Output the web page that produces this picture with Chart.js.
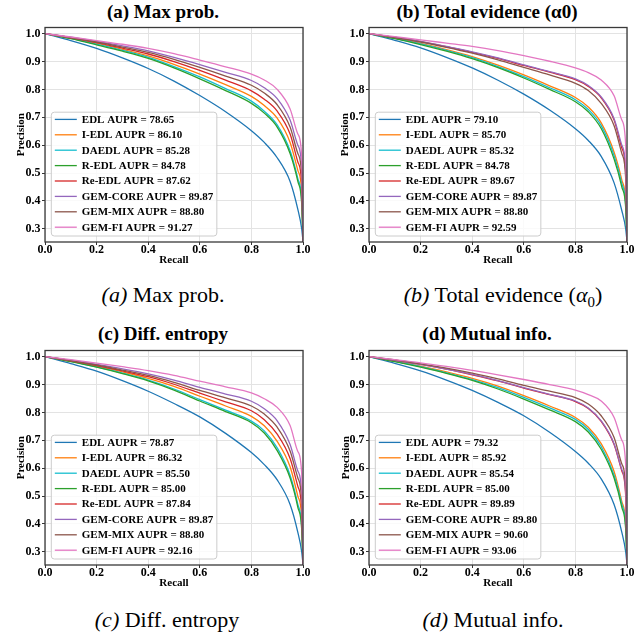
<!DOCTYPE html>
<html>
<head>
<meta charset="utf-8">
<script src="https://cdn.jsdelivr.net/npm/chart.js@4.4.1/dist/chart.umd.min.js"></script>
<style>
body { margin: 0; background: #fff; width: 640px; height: 634px; position: relative; overflow: hidden;
       font-family: "Liberation Serif", "Times New Roman", serif; color: #000; }
canvas { position: absolute; }
.ttl { position: absolute; width: 300px; text-align: center; font-weight: bold; font-size: 19px; line-height: 22px; white-space: nowrap; }
.cap { position: absolute; width: 300px; text-align: center; font-size: 22px; line-height: 26px; white-space: nowrap; }
.cap sub { font-size: 0.68em; }
</style>
</head>
<body>
<div class="ttl" style="left:13px;top:1px">(a) Max prob.</div>
<div class="ttl" style="left:337px;top:1px">(b) Total evidence (α0)</div>
<div class="ttl" style="left:13px;top:323px">(c) Diff. entropy</div>
<div class="ttl" style="left:337px;top:323px">(d) Mutual info.</div>

<canvas id="chartA" width="320" height="250" style="left:0;top:20px"></canvas>
<canvas id="chartB" width="320" height="250" style="left:320px;top:20px"></canvas>
<canvas id="chartC" width="320" height="250" style="left:0;top:343px"></canvas>
<canvas id="chartD" width="320" height="250" style="left:320px;top:343px"></canvas>

<div class="cap" style="left:13px;top:282px"><i>(a)</i> Max prob.</div>
<div class="cap" style="left:353px;top:282px"><i>(b)</i> Total evidence (<i>α</i><sub>0</sub>)</div>
<div class="cap" style="left:17px;top:607px"><i>(c)</i> Diff. entropy</div>
<div class="cap" style="left:343px;top:607px"><i>(d)</i> Mutual info.</div>

<script>
// ---------------- data ----------------
var methods = ['EDL', 'I-EDL', 'DAEDL', 'R-EDL', 'Re-EDL', 'GEM-CORE', 'GEM-MIX', 'GEM-FI'];
var colors = ['#1f77b4', '#ff7f0e', '#17becf', '#2ca02c', '#d62728', '#9467bd', '#8c564b', '#e377c2'];

var recall = [0, 0.1, 0.2, 0.3, 0.4, 0.5, 0.6, 0.7, 0.8, 0.85, 0.9, 0.95, 0.98, 0.995, 1.0];
var xTicks = [0.0, 0.2, 0.4, 0.6, 0.8, 1.0];
var yTicks = [0.3, 0.4, 0.5, 0.6, 0.7, 0.8, 0.9, 1.0];

// AUPR per method (legend order)
var auprA = [78.65, 86.10, 85.28, 84.78, 87.62, 89.87, 88.80, 91.27];
var auprB = [79.10, 85.70, 85.32, 84.78, 89.67, 89.87, 88.80, 92.59];
var auprC = [78.87, 86.32, 85.50, 85.00, 87.84, 89.87, 88.80, 92.16];
var auprD = [79.32, 85.92, 85.54, 85.00, 89.89, 89.80, 90.60, 93.06];

// precision at each recall value, one row per method
var precA = [
    [1.0, 0.975, 0.947, 0.913, 0.875, 0.830, 0.778, 0.720, 0.652, 0.610, 0.555, 0.470, 0.370, 0.300, 0.255],
    [1.0, 0.984, 0.965, 0.944, 0.920, 0.890, 0.855, 0.817, 0.775, 0.742, 0.697, 0.610, 0.510, 0.430, 0.255],
    [1.0, 0.983, 0.962, 0.940, 0.915, 0.882, 0.845, 0.803, 0.758, 0.722, 0.673, 0.580, 0.480, 0.400, 0.255],
    [1.0, 0.982, 0.960, 0.937, 0.911, 0.877, 0.838, 0.796, 0.750, 0.715, 0.665, 0.570, 0.470, 0.390, 0.255],
    [1.0, 0.985, 0.968, 0.948, 0.927, 0.900, 0.868, 0.833, 0.795, 0.765, 0.722, 0.640, 0.540, 0.460, 0.255],
    [1.0, 0.987, 0.972, 0.956, 0.938, 0.915, 0.889, 0.861, 0.832, 0.806, 0.767, 0.690, 0.600, 0.520, 0.255],
    [1.0, 0.986, 0.970, 0.952, 0.933, 0.908, 0.879, 0.848, 0.815, 0.787, 0.745, 0.665, 0.570, 0.490, 0.255],
    [1.0, 0.988, 0.975, 0.962, 0.947, 0.928, 0.905, 0.881, 0.855, 0.834, 0.800, 0.730, 0.640, 0.560, 0.255]
];
var precB = [
    [1.0, 0.976, 0.949, 0.915, 0.877, 0.833, 0.783, 0.726, 0.659, 0.617, 0.560, 0.465, 0.365, 0.300, 0.255],
    [1.0, 0.984, 0.965, 0.943, 0.918, 0.887, 0.852, 0.813, 0.771, 0.737, 0.680, 0.575, 0.475, 0.395, 0.255],
    [1.0, 0.983, 0.963, 0.940, 0.914, 0.882, 0.846, 0.806, 0.763, 0.728, 0.670, 0.562, 0.462, 0.385, 0.255],
    [1.0, 0.982, 0.961, 0.937, 0.910, 0.878, 0.841, 0.800, 0.756, 0.720, 0.660, 0.550, 0.450, 0.375, 0.255],
    [1.0, 0.987, 0.971, 0.953, 0.933, 0.911, 0.886, 0.862, 0.835, 0.811, 0.770, 0.690, 0.590, 0.500, 0.255],
    [1.0, 0.987, 0.972, 0.954, 0.935, 0.913, 0.888, 0.864, 0.838, 0.814, 0.773, 0.695, 0.600, 0.510, 0.255],
    [1.0, 0.986, 0.970, 0.951, 0.930, 0.906, 0.879, 0.852, 0.822, 0.796, 0.750, 0.670, 0.570, 0.480, 0.255],
    [1.0, 0.989, 0.978, 0.966, 0.954, 0.939, 0.921, 0.901, 0.877, 0.860, 0.834, 0.777, 0.690, 0.600, 0.255]
];
var precC = [
    [1.0, 0.975, 0.948, 0.914, 0.876, 0.832, 0.784, 0.725, 0.656, 0.613, 0.558, 0.470, 0.370, 0.300, 0.255],
    [1.0, 0.984, 0.966, 0.945, 0.922, 0.893, 0.858, 0.823, 0.786, 0.752, 0.696, 0.605, 0.500, 0.420, 0.255],
    [1.0, 0.983, 0.963, 0.941, 0.916, 0.884, 0.846, 0.808, 0.769, 0.734, 0.673, 0.575, 0.470, 0.390, 0.255],
    [1.0, 0.982, 0.962, 0.939, 0.913, 0.880, 0.841, 0.803, 0.763, 0.726, 0.663, 0.565, 0.460, 0.380, 0.255],
    [1.0, 0.985, 0.968, 0.949, 0.928, 0.901, 0.869, 0.838, 0.806, 0.774, 0.722, 0.635, 0.535, 0.450, 0.255],
    [1.0, 0.987, 0.972, 0.956, 0.938, 0.916, 0.890, 0.866, 0.840, 0.813, 0.770, 0.685, 0.590, 0.510, 0.255],
    [1.0, 0.986, 0.970, 0.952, 0.933, 0.908, 0.879, 0.852, 0.823, 0.794, 0.747, 0.662, 0.565, 0.480, 0.255],
    [1.0, 0.989, 0.977, 0.964, 0.950, 0.933, 0.912, 0.892, 0.870, 0.849, 0.818, 0.753, 0.660, 0.580, 0.255]
];
var precD = [
    [1.0, 0.976, 0.949, 0.916, 0.879, 0.836, 0.788, 0.729, 0.660, 0.618, 0.562, 0.470, 0.370, 0.300, 0.255],
    [1.0, 0.984, 0.966, 0.945, 0.922, 0.894, 0.860, 0.823, 0.782, 0.747, 0.688, 0.588, 0.480, 0.400, 0.255],
    [1.0, 0.983, 0.964, 0.942, 0.918, 0.889, 0.854, 0.816, 0.775, 0.739, 0.678, 0.575, 0.470, 0.390, 0.255],
    [1.0, 0.982, 0.962, 0.940, 0.915, 0.884, 0.848, 0.809, 0.767, 0.730, 0.668, 0.565, 0.460, 0.380, 0.255],
    [1.0, 0.987, 0.972, 0.955, 0.935, 0.913, 0.887, 0.864, 0.839, 0.814, 0.768, 0.685, 0.590, 0.500, 0.255],
    [1.0, 0.987, 0.972, 0.955, 0.936, 0.914, 0.889, 0.865, 0.841, 0.816, 0.770, 0.688, 0.595, 0.510, 0.255],
    [1.0, 0.988, 0.974, 0.959, 0.941, 0.920, 0.897, 0.876, 0.853, 0.830, 0.788, 0.710, 0.615, 0.530, 0.255],
    [1.0, 0.989, 0.978, 0.965, 0.951, 0.935, 0.918, 0.900, 0.880, 0.864, 0.841, 0.782, 0.700, 0.610, 0.255]
];

// ---------------- drawing ----------------
var FAMILY = "'Liberation Serif', serif";
Chart.defaults.font.family = FAMILY;
Chart.defaults.color = '#000';

// spines round the axes + legend in the lower left corner
var framePlugin = {
    id: 'frame',
    afterDraw: function(chart) {
        var ctx = chart.ctx, a = chart.chartArea;
        ctx.save();
        ctx.strokeStyle = '#3a3a3a';
        ctx.lineWidth = 1.3;
        ctx.strokeRect(a.left, a.top, a.right - a.left, a.bottom - a.top);

        ctx.font = 'bold 11px ' + FAMILY;
        var sets = chart.data.datasets;
        var textW = 0;
        sets.forEach(function(d) { textW = Math.max(textW, ctx.measureText(d.label).width); });
        var rowH = 15.4;
        var w = 30.5 + textW + 3.5;
        var h = 7.2 + rowH * (sets.length - 1) + 8.8;
        var x0 = a.left + 6.3, y0 = a.bottom - 6 - h;

        ctx.beginPath();
        ctx.roundRect(x0, y0, w, h, 3);
        ctx.fillStyle = 'rgba(255,255,255,0.8)';
        ctx.fill();
        ctx.strokeStyle = '#cccccc';
        ctx.lineWidth = 1;
        ctx.stroke();

        ctx.textBaseline = 'middle';
        ctx.textAlign = 'left';
        sets.forEach(function(d, i) {
            var y = y0 + 7.2 + i * rowH;
            ctx.beginPath();
            ctx.moveTo(x0 + 3.5, y);
            ctx.lineTo(x0 + 25.5, y);
            ctx.strokeStyle = d.borderColor;
            ctx.lineWidth = 1.3;
            ctx.stroke();
            ctx.fillStyle = '#000';
            ctx.fillText(d.label, x0 + 30.5, y + 0.5);
        });
        ctx.restore();
    }
};

function makePanel(id, prec, aupr, leftW, rightPad, yTitlePad) {
    var datasets = methods.map(function(m, i) {
        return {
            label: m + ' AUPR = ' + aupr[i].toFixed(2),
            data: recall.map(function(r, k) { return {x: r, y: prec[i][k]}; }),
            borderColor: colors[i],
            borderWidth: 1.3,
            pointRadius: 0,
            fill: false,
            cubicInterpolationMode: 'monotone',
            order: methods.length - i
        };
    });

    return new Chart(document.getElementById(id), {
        type: 'line',
        data: {datasets: datasets},
        options: {
            responsive: false,
            animation: false,
            layout: {padding: {top: 5, right: rightPad, left: 0, bottom: 0}},
            plugins: {legend: {display: false}, tooltip: {enabled: false}},
            scales: {
                x: {
                    type: 'linear', min: 0, max: 1,
                    afterBuildTicks: function(s) { s.ticks = xTicks.map(function(v) { return {value: v}; }); },
                    afterFit: function(s) { s.height = 28; },
                    ticks: {
                        callback: function(v) { return v.toFixed(1); },
                        font: {size: 12, weight: 'bold', lineHeight: 1},
                        padding: -1, maxRotation: 0, autoSkip: false
                    },
                    grid: {color: '#e3e3e3', lineWidth: 1, tickLength: 3, tickColor: '#333'},
                    border: {display: false},
                    title: {display: true, text: 'Recall', font: {size: 11, weight: 'bold', lineHeight: 1},
                            padding: {top: 0, bottom: 4}}
                },
                y: {
                    type: 'linear', min: 0.253, max: 1.022,
                    afterBuildTicks: function(s) { s.ticks = yTicks.map(function(v) { return {value: v}; }); },
                    afterFit: function(s) { s.width = leftW; },
                    ticks: {
                        callback: function(v) { return v.toFixed(1); },
                        font: {size: 12, weight: 'bold', lineHeight: 1},
                        padding: 1.5, autoSkip: false
                    },
                    grid: {color: '#e3e3e3', lineWidth: 1, tickLength: 3, tickColor: '#333'},
                    border: {display: false},
                    title: {display: true, text: 'Precision', font: {size: 11, weight: 'bold', lineHeight: 1},
                            padding: {top: yTitlePad, bottom: 0}}
                }
            }
        },
        plugins: [framePlugin]
    });
}

function drawAll() {
    makePanel('chartA', precA, auprA, 45, 17, 16);
    makePanel('chartB', precB, auprB, 49, 13, 19.5);
    makePanel('chartC', precC, auprC, 45, 17, 16);
    makePanel('chartD', precD, auprD, 49, 13, 20.5);
}

// make sure the serif face is ready before the canvases use it
Promise.all([
    document.fonts.load("bold 11px 'Liberation Serif'"),
    document.fonts.load("11px 'Liberation Serif'")
]).then(drawAll, drawAll);
</script>
</body>
</html>
